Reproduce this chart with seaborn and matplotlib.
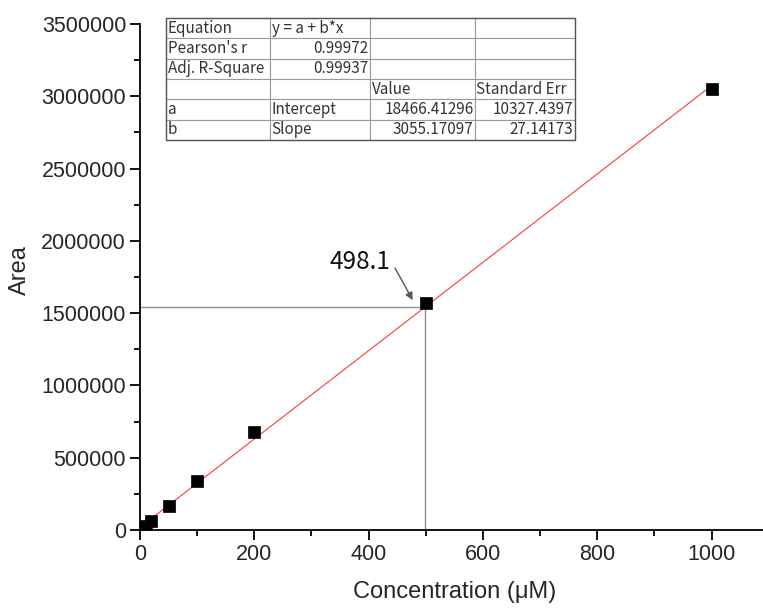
import numpy as np
import pandas as pd
import matplotlib
matplotlib.use("Agg")
import matplotlib.pyplot as plt
import seaborn as sns
from matplotlib.ticker import AutoMinorLocator

# ---- data ----
conc = [5, 10, 20, 50, 100, 200, 500, 1000]
area = [15000, 30000, 65000, 165000, 340000, 680000, 1570000, 3050000]
intercept = 18466.41296
slope = 3055.17097
x_unknown = 498.1

table_rows = [
    ["Equation", "y = a + b*x", "", ""],
    ["Pearson's r", "0.99972", "", ""],
    ["Adj. R-Square", "0.99937", "", ""],
    ["", "", "Value", "Standard Err"],
    ["a", "Intercept", "18466.41296", "10327.4397"],
    ["b", "Slope", "3055.17097", "27.14173"],
]
x_ticks = [0, 200, 400, 600, 800, 1000]
y_ticks = [0, 500000, 1000000, 1500000, 2000000, 2500000, 3000000, 3500000]

sns.set_theme(style="white")
plt.rcParams['font.family'] = ['Liberation Sans', 'DejaVu Sans']

fig = plt.figure(figsize=(7.63, 6.09), dpi=100)
ax = fig.add_axes([140/763, 1-530/609, 1-140/763, (530-24)/609])

df = pd.DataFrame({"conc": conc, "area": area})
fit_x = np.array([0, 1000])
fit_df = pd.DataFrame({"x": fit_x, "y": intercept + slope * fit_x})
sns.lineplot(data=fit_df, x="x", y="y", ax=ax, color="#ff3b3b", linewidth=0.8, zorder=2)

y_unknown = intercept + slope * x_unknown
ax.plot([0, x_unknown], [y_unknown, y_unknown], color="#8c8c8c", linewidth=1.0, zorder=1)
ax.plot([x_unknown, x_unknown], [0, y_unknown], color="#8c8c8c", linewidth=1.0, zorder=1)

sns.scatterplot(data=df, x="conc", y="area", ax=ax, marker="s", s=75, color="black",
                edgecolor="black", linewidth=0.5, zorder=3)

ax.text(x_unknown - 113, y_unknown + 315000, f"{x_unknown}", fontsize=17.5,
        ha="center", va="center", family=['Noto Sans CJK SC', 'DejaVu Sans'], color="#111111")
ax.annotate("", xy=(x_unknown - 21, y_unknown + 50000),
            xytext=(x_unknown - 52, y_unknown + 272000),
            arrowprops=dict(arrowstyle="-|>", color="#555555", lw=1.0,
                            mutation_scale=11, shrinkA=0, shrinkB=0))

ax.set_xlim(0, 1090)
ax.set_ylim(0, 3500000)
ax.set_xticks(x_ticks)
ax.set_yticks(y_ticks)
ax.set_xticklabels([str(t) for t in x_ticks])
ax.set_yticklabels([str(t) for t in y_ticks])
ax.xaxis.set_minor_locator(AutoMinorLocator(2))
ax.yaxis.set_minor_locator(AutoMinorLocator(2))
ax.tick_params(which="major", direction="out", length=7, width=1.3, labelsize=15.5, color="black", pad=3)
ax.tick_params(which="minor", direction="out", length=4, width=1.3, color="black")
ax.tick_params(axis="x", which="both", bottom=True)
ax.tick_params(axis="y", which="both", left=True)
for s in ["top", "right"]:
    ax.spines[s].set_visible(False)
for s in ["left", "bottom"]:
    ax.spines[s].set_color("black")
    ax.spines[s].set_linewidth(1.3)

ax.set_xlabel("Concentration (μM)", fontsize=17)
ax.set_ylabel("Area", fontsize=17)
ax.xaxis.set_label_coords((455-140)/623, -(581-530)/506)
ax.yaxis.set_label_coords(-(140-31)/623, (530-270)/506)

# ---- results table ----
col_px = [104, 100, 105, 100]
tot = sum(col_px)
tbl_left, tbl_right = 166/763, 575/763
tbl_bottom, tbl_top = 1-140/609, 1-18/609
tax = fig.add_axes([tbl_left, tbl_bottom, tbl_right - tbl_left, tbl_top - tbl_bottom])
tax.axis("off")
tbl = tax.table(cellText=table_rows,
                colWidths=[c/tot for c in col_px],
                bbox=[0, 0, 1, 1], cellLoc="left")
tbl.auto_set_font_size(False)
right_cells = {(1, 1), (2, 1), (4, 2), (4, 3), (5, 2), (5, 3)}
for (r, c), cell in tbl.get_celld().items():
    cell.set_edgecolor("#9a9a9a")
    cell.set_linewidth(0.8)
    cell.set_facecolor("white")
    cell.PAD = 0.015
    txt = cell.get_text()
    txt.set_fontsize(11)
    txt.set_family(['Noto Sans CJK SC', 'DejaVu Sans'])
    txt.set_color("#333333")
    if (r, c) in right_cells:
        cell._loc = "right"
        txt.set_ha("right")
tax.plot([0, 1, 1, 0, 0], [0, 0, 1, 1, 0], color="#555555", linewidth=1.0,
         transform=tax.transAxes, clip_on=False)

fig.savefig("out.png", dpi=100)
